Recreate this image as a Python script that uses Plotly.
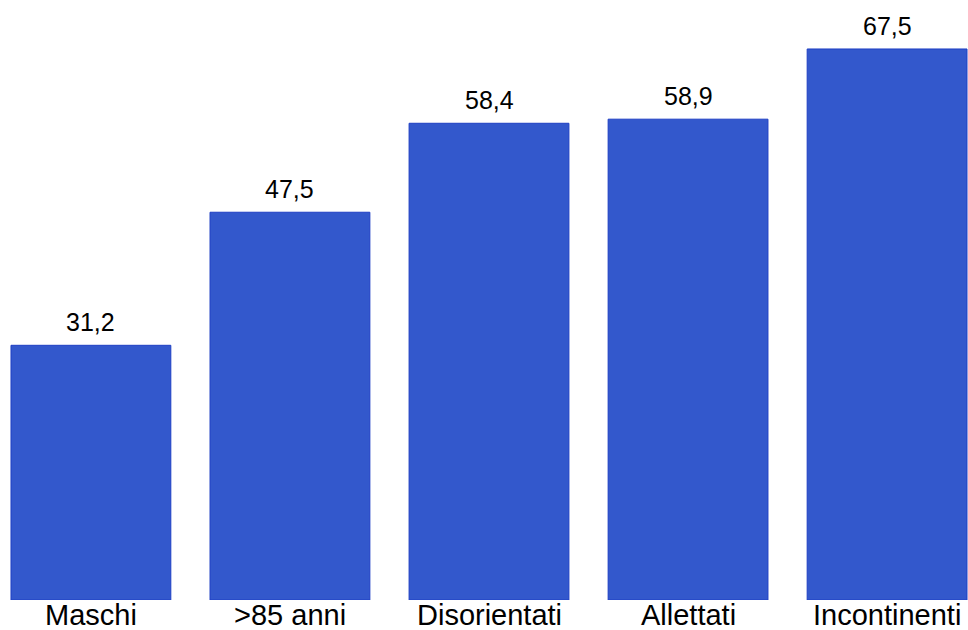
import plotly.graph_objects as go

categories = ["Maschi", ">85 anni", "Disorientati", "Allettati", "Incontinenti"]
values = [31.2, 47.5, 58.4, 58.9, 67.5]
value_labels = ["31,2", "47,5", "58,4", "58,9", "67,5"]

FONT = "Liberation Sans, Arial, sans-serif"

fig = go.Figure()
fig.add_trace(go.Bar(
    x=list(range(len(categories))),
    y=values,
    width=0.803,
    marker=dict(color="#3358CC", line=dict(color="#1E3FC4", width=1)),
    hoverinfo="skip",
))

# value labels above each bar
for i, (v, lab) in enumerate(zip(values, value_labels)):
    fig.add_annotation(
        x=i, y=v, text=lab, showarrow=False,
        yanchor="bottom", yshift=7,
        font=dict(family=FONT, size=25, color="#000000"),
    )

# category names under the bars
for i, name in enumerate(categories):
    fig.add_annotation(
        x=i, y=0, yref="paper", text=name, showarrow=False,
        yanchor="top", yshift=3,
        font=dict(family=FONT, size=29, color="#000000"),
    )

fig.update_layout(
    width=968, height=630,
    margin=dict(l=0, r=0, t=0, b=30),
    paper_bgcolor="white", plot_bgcolor="white",
    showlegend=False,
    xaxis=dict(
        range=[-0.4567, 4.4065],
        showticklabels=False,
        showgrid=False, zeroline=False, showline=False,
        ticks="", automargin=False,
    ),
    yaxis=dict(
        range=[0, 73.5],
        visible=False, automargin=False,
        showgrid=False, zeroline=False,
    ),
)

fig.write_html("out.html")
